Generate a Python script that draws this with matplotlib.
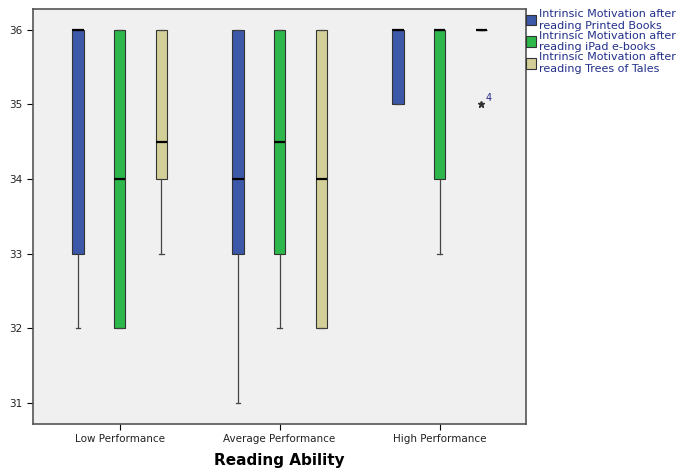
import matplotlib.pyplot as plt
from matplotlib.patches import Patch

# Reading ability groups on the x axis
groups = ['Low Performance', 'Average Performance', 'High Performance']
series = ['Intrinsic Motivation after\nreading Printed Books',
          'Intrinsic Motivation after\nreading iPad e-books',
          'Intrinsic Motivation after\nreading Trees of Tales']
colors = ['#3C58A8', '#2EB84B', '#D3CF98']

# box stats per series, one value per group
q1 = [[33, 33, 35], [32, 33, 34], [34, 32, 36]]
med = [[36, 34, 36], [34, 34.5, 36], [34.5, 34, 36]]
q3 = [[36, 36, 36], [36, 36, 36], [36, 36, 36]]
wlo = [[32, 31, 35], [32, 32, 33], [33, 32, 36]]
whi = [[36, 36, 36], [36, 36, 36], [36, 36, 36]]
outliers = [[[], [], []], [[], [], []], [[], [], [35]]]
outlier_ids = {(2, 2): '4'}

fig = plt.figure(figsize=(6.76, 4.68), dpi=100)
ax = fig.add_axes([0.049, 0.094, 0.729, 0.887])
ax.set_facecolor('#F0F0F0')

offsets = [-0.26, 0.0, 0.26]
for s in range(3):
    stats = []
    for g in range(3):
        stats.append({'q1': q1[s][g], 'med': med[s][g], 'q3': q3[s][g],
                      'whislo': wlo[s][g], 'whishi': whi[s][g], 'fliers': outliers[s][g]})
    pos = [g + offsets[s] for g in range(3)]
    ax.bxp(stats, positions=pos, widths=0.07, patch_artist=True, showcaps=True,
           capwidths=0.03,
           boxprops=dict(facecolor=colors[s], edgecolor='#333333', linewidth=0.8),
           medianprops=dict(color='black', linewidth=1.6),
           whiskerprops=dict(color='#444444', linewidth=0.9),
           capprops=dict(color='#444444', linewidth=0.9),
           flierprops=dict(marker='*', markersize=5, markerfacecolor='#333333',
                           markeredgecolor='#333333', linestyle='none'))

for (s, g), lab in outlier_ids.items():
    for v in outliers[s][g]:
        ax.text(g + offsets[s] + 0.03, v + 0.05, lab, fontsize=7, color='#2B2B8C')

ax.set_xlim(-0.54, 2.54)
ax.set_ylim(30.72, 36.28)
ax.set_xticks(range(3))
ax.set_xticklabels(groups, fontsize=7.5, color='#222222')
ax.set_yticks([31, 32, 33, 34, 35, 36])
ax.tick_params(axis='y', labelsize=7.5, length=4, labelcolor='#222222')
ax.tick_params(axis='x', length=4)
for sp in ax.spines.values():
    sp.set_color('#555555')
    sp.set_linewidth(1.2)
ax.set_xlabel('Reading Ability', fontsize=11, fontweight='bold', labelpad=6)

handles = [Patch(facecolor=c, edgecolor='#333333', linewidth=0.8) for c in colors]
fig.legend(handles, series, loc='upper left', bbox_to_anchor=(0.768, 0.995),
           frameon=False, fontsize=8, handlelength=0.9, handleheight=1.1,
           handletextpad=0.25, labelspacing=0.0, labelcolor='#22308A',
           borderaxespad=0.2)

fig.savefig('out.png', dpi=100)
